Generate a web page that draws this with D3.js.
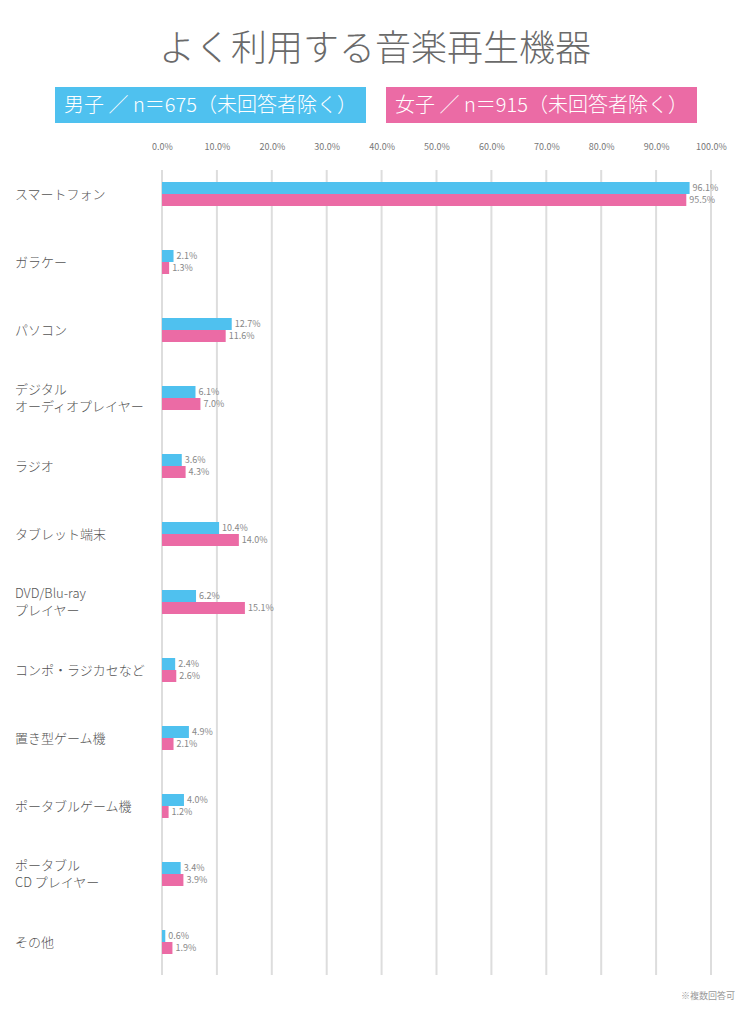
<!DOCTYPE html>
<html><head><meta charset="utf-8">
<script src="https://cdn.jsdelivr.net/npm/d3@7"></script>
<style>
html,body{margin:0;padding:0;background:#fff;}
svg{display:block;font-family:"Noto Sans CJK JP","Noto Sans",sans-serif;}
</style></head>
<body><svg id="c" width="751" height="1024"></svg>
<script>
const title = "よく利用する音楽再生機器";
const categories = ["スマートフォン","ガラケー","パソコン","デジタル\nオーディオプレイヤー","ラジオ","タブレット端末","DVD/Blu-ray\nプレイヤー","コンポ・ラジカセなど","置き型ゲーム機","ポータブルゲーム機","ポータブル\nCD プレイヤー","その他"];
const seriesNames = ["男子 ／ n＝675（未回答者除く）","女子 ／ n＝915（未回答者除く）"];
const maleValues = [96.1,2.1,12.7,6.1,3.6,10.4,6.2,2.4,4.9,4.0,3.4,0.6];
const femaleValues = [95.5,1.3,11.6,7.0,4.3,14.0,15.1,2.6,2.1,1.2,3.9,1.9];
const tickValues = [0,10,20,30,40,50,60,70,80,90,100];
const footnote = "※複数回答可";
const colors = ["#4fc1ef","#eb6ba5"];

const svg = d3.select("#c");
const x = d3.scaleLinear().domain([0,100]).range([162,711]);
const y = d3.scaleBand().domain(categories).range([160,976]);
const sub = d3.scaleBand().domain([0,1]).range([0,24]);
const fmt = v => d3.format(".1f")(v) + "%";

// title
svg.append("text").attr("x",375).attr("y",61).attr("text-anchor","middle")
  .attr("font-size",36).attr("font-weight",300).attr("fill","#6a6a6a").text(title);

// legend
const legX = [55,386];
seriesNames.forEach((s,i)=>{
  svg.append("rect").attr("x",legX[i]).attr("y",87).attr("width",311).attr("height",36).attr("fill",colors[i]);
  svg.append("text").attr("x",legX[i]+155.5).attr("y",112).attr("text-anchor","middle")
    .attr("font-size",20).attr("font-weight",300).attr("fill","#fff").text(s);
});

// axis
const axis = d3.axisTop(x).tickValues(tickValues).tickFormat(fmt).tickSize(0);
const gA = svg.append("g").attr("transform","translate(0,153)").call(axis);
gA.select(".domain").remove();
gA.selectAll("text").attr("font-size",9).attr("fill","#777").attr("font-family","'Noto Sans CJK JP','Noto Sans',sans-serif");

// gridlines
svg.append("g").selectAll("line").data(tickValues).join("line")
  .attr("x1",d=>x(d)).attr("x2",d=>x(d)).attr("y1",170).attr("y2",975)
  .attr("stroke","#dddddd").attr("stroke-width",2);

// bars
const rows = categories.map((c,i)=>({c, vals:[maleValues[i],femaleValues[i]]}));
const g = svg.append("g");
rows.forEach(r=>{
  const cy = y(r.c) + y.bandwidth()/2 - 12;
  r.vals.forEach((v,j)=>{
    g.append("rect").attr("x",x(0)).attr("y",cy+sub(j)).attr("width",x(v)-x(0)).attr("height",sub.bandwidth()).attr("fill",colors[j]);
    g.append("text").attr("x",x(v)+3).attr("y",cy+sub(j)+sub.bandwidth()/2).attr("dy","0.35em")
      .attr("font-size",9).attr("fill","#888").text(fmt(v));
  });
  const lines = r.c.split("\n");
  lines.forEach((l,k)=>{
    g.append("text").attr("font-size",13).attr("font-weight",300).attr("fill","#555")
      .attr("x",15).attr("y",y(r.c)+y.bandwidth()/2 + (k-(lines.length-1)/2)*17).attr("dy","0.35em").text(l);
  });
});

svg.append("text").attr("x",735).attr("y",999).attr("text-anchor","end").attr("font-size",9).attr("fill","#999").text(footnote);
</script></body></html>
